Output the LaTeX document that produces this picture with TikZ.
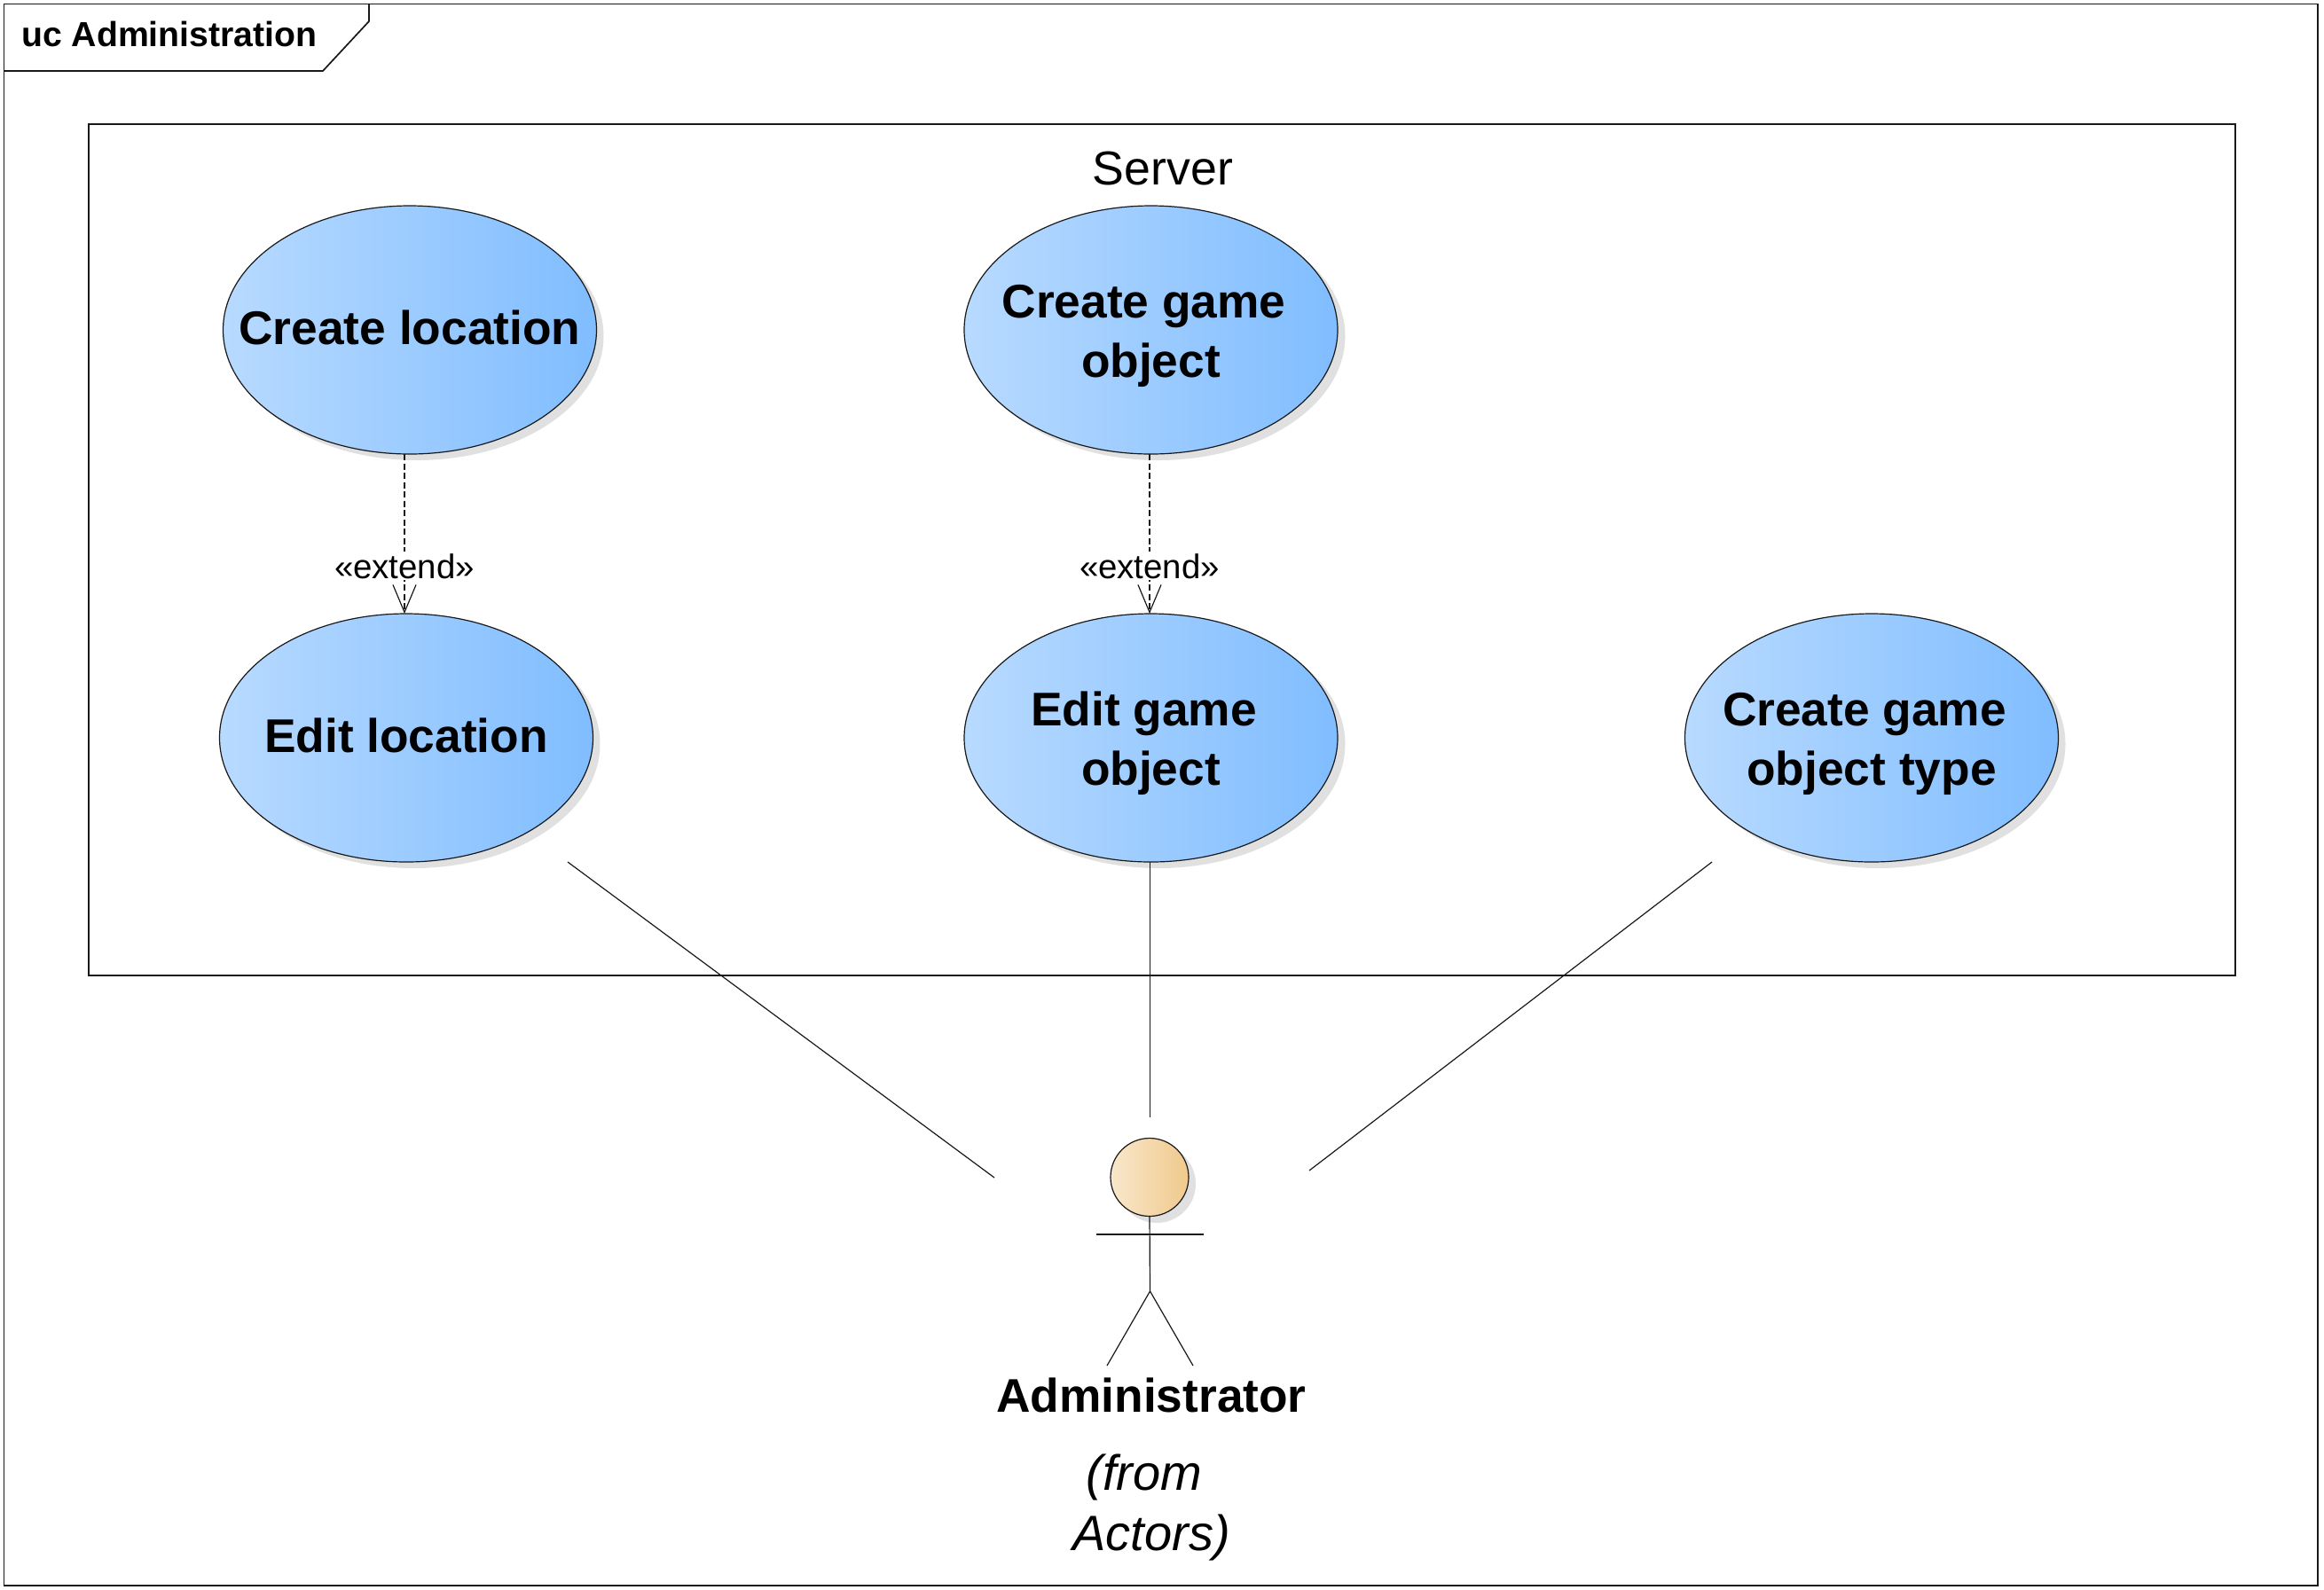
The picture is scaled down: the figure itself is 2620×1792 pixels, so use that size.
\documentclass[tikz,border=0pt]{standalone}
\usepackage{fontspec}
\setmainfont{Liberation Sans}
\usetikzlibrary{shapes.geometric,arrows.meta}
\definecolor{ucl}{HTML}{B8DAFF}
\definecolor{ucr}{HTML}{80BDFF}
\definecolor{acl}{HTML}{F9E7CC}
\definecolor{acr}{HTML}{F0C98C}
\definecolor{shadowc}{HTML}{E0E0E0}
\newcommand{\twoline}{\rule{0pt}{51pt}}
\newcommand{\oneline}{\rule[-6pt]{0pt}{6pt}}
\tikzset{
  lw/.style={line width=1.2pt,draw=black!90},
  uc/.style={ellipse,lw,left color=ucl,right color=ucr,shading angle=90,minimum width=421pt,minimum height=280pt,inner sep=-150pt,align=center,font=\fontsize{53.3}{67}\selectfont\bfseries},
  ucshadow/.style={ellipse,fill=shadowc,minimum width=421pt,minimum height=280pt,inner sep=0pt},
  extendlbl/.style={fill=white,inner xsep=1pt,inner ysep=2pt,font=\fontsize{38.4}{44}\selectfont},
  dep/.style={lw,dash pattern=on 7pt off 3.5pt,-{Straight Barb[length=31pt,width=26pt,line width=1.2pt]}},
  assoc/.style={lw}
}
\begin{document}
\begin{tikzpicture}[x=1pt,y=-1pt]
\useasboundingbox (0,0) rectangle (2620,1792);
\fill[white] (0,0) rectangle (2620,1792);
% frame
\draw[lw,line width=1.7pt] (4.5,4.5) rectangle (2613,1788);
\draw[lw,line width=1.7pt] (4.5,80) -- (364,80) -- (416,24) -- (416,4.5);
\node[anchor=base west,inner sep=0pt,font=\fontsize{39.2}{48}\selectfont\bfseries] (title) at (24,52) {uc Administration};
% system
\node[draw=black!90,line width=1.2pt,minimum width=2420pt,minimum height=960pt,inner sep=0pt] (server) at (1310,620) {};
\node[inner sep=0pt,anchor=base,font=\fontsize{53.7}{60}\selectfont] (serverlbl) at (1311,208) {Server};
% shadows
\foreach \x/\y in {462/372,1298/372,458/832,1298/832,2110/832}
  \node[ucshadow] at (\x+8,\y+7) {};
% use cases
\node[uc] (cl) at (462,372) {Create location\oneline};
\node[uc] (cg) at (1297.5,372) {\twoline Create game\hspace*{16pt}\\object};
\node[uc] (el) at (458,832) {Edit location\oneline};
\node[uc] (eg) at (1297.5,832) {\twoline Edit game\hspace*{16pt}\\object};
\node[uc] (ct) at (2110,832) {\twoline Create game\hspace*{16pt}\\object type};
% actor
\node[circle,fill=shadowc,minimum size=88pt,inner sep=0pt] at (1304,1335) {};
\node[circle,lw,left color=acl,right color=acr,shading angle=90,minimum size=88pt,inner sep=0pt] (head) at (1296,1327.5) {};
\coordinate (armL) at (1236,1392);
\coordinate (armR) at (1357,1392);
\coordinate (hip) at (1296.5,1456);
\coordinate (legL) at (1248,1540);
\coordinate (legR) at (1345,1540);
\draw[assoc] (head.south) -- (hip);
\draw[assoc] (armL) -- (armR);
\draw[assoc] (legL) -- (hip) -- (legR);
\node[anchor=base,inner sep=0pt,font=\fontsize{53.3}{67}\selectfont\bfseries] (admin) at (1298,1592) {Administrator};
\node[anchor=north,inner sep=0pt,align=center,font=\fontsize{56}{68}\selectfont\itshape] (from) at (1298,1640) {(from\hspace*{16pt}\\Actors)};
% extend
\coordinate (d1s) at (456,512); \coordinate (d1e) at (456,692);
\coordinate (d2s) at (1296,512); \coordinate (d2e) at (1296,692);
\draw[dep] (d1s) -- (d1e);
\draw[dep] (d2s) -- (d2e);
\node[extendlbl,anchor=base] (x1) at (456,652) {«extend»};
\node[extendlbl,anchor=base] (x2) at (1296,652) {«extend»};
% associations
\coordinate (a1) at (640,972); \coordinate (a1e) at (1121,1328);
\coordinate (a2) at (1296.5,972); \coordinate (a2e) at (1296.5,1260);
\coordinate (a3) at (1930,972); \coordinate (a3e) at (1476,1320);
\draw[assoc] (a1) -- (a1e);
\draw[assoc] (a2) -- (a2e);
\draw[assoc] (a3) -- (a3e);
\end{tikzpicture}
\end{document}
